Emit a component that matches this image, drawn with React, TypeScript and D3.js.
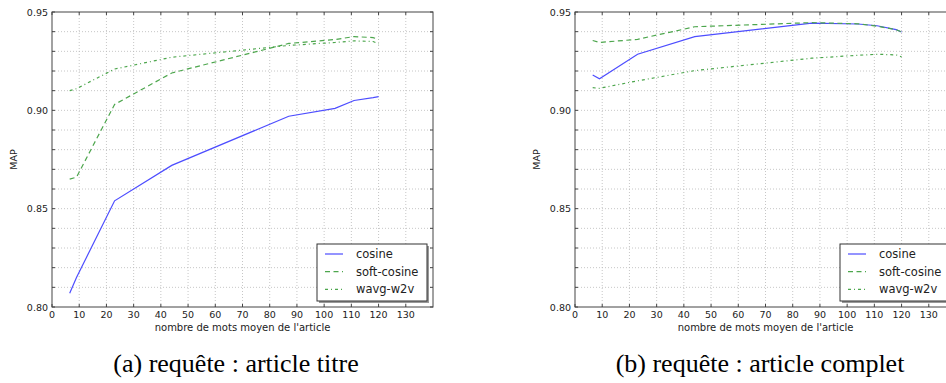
import React from "react";
import * as d3 from "d3";

// average article length (x) shared by both panels
const wordCounts = [6.5, 9, 23, 44, 87, 104, 111, 118, 120];

// (a) query : article title
const cosineTitle = [0.807, 0.815, 0.854, 0.872, 0.897, 0.901, 0.905, 0.9065, 0.907];
const softCosineTitle = [0.865, 0.866, 0.903, 0.919, 0.934, 0.936, 0.9375, 0.937, 0.936];
const wavgTitle = [0.91, 0.911, 0.921, 0.927, 0.933, 0.9345, 0.9353, 0.935, 0.9337];

// (b) query : full article
const cosineFull = [0.918, 0.916, 0.9285, 0.9375, 0.9443, 0.9439, 0.943, 0.941, 0.9398];
const softCosineFull = [0.9355, 0.9345, 0.9361, 0.9425, 0.9446, 0.944, 0.9428, 0.941, 0.9398];
const wavgFull = [0.9115, 0.9112, 0.915, 0.9202, 0.9265, 0.928, 0.9285, 0.9282, 0.9272];

const seriesNames = ["cosine", "soft-cosine", "wavg-w2v"];
const xTicks = d3.range(0, 131, 10);
const yMajor = [0.8, 0.85, 0.9, 0.95];
const yMinor = d3.range(0, 16).map((i) => +(0.8 + i * 0.01).toFixed(2));

const captions = ["(a) requête : article titre", "(b) requête : article complet"];

const BLUE = "rgb(77,77,255)";
const GREEN = "rgb(77,166,77)";
const styles = [
  { color: BLUE, dash: null },
  { color: GREEN, dash: "5,3.5" },
  { color: GREEN, dash: "3,3,1,3" },
];

const sans = "DejaVu Sans";

function Panel({ left, series, caption, captionX }) {
  const top = 12;
  const bottom = 307;
  const x = d3.scaleLinear().domain([0, 140]).range([left, left + 381]);
  const y = d3.scaleLinear().domain([0.8, 0.95]).range([bottom, top]);
  const right = x(140);

  const line = d3
    .line<number>()
    .x((d, i) => x(wordCounts[i]))
    .y((d) => y(d));

  const legX = right - 116;
  const legY = 244;

  return (
    <g>
      {/* grid */}
      {xTicks.slice(1).map((t) => (
        <line key={"gx" + t} x1={x(t)} x2={x(t)} y1={top} y2={bottom}
          stroke="#b8b8b8" strokeWidth={0.8} strokeDasharray="1,2" />
      ))}
      {yMinor.slice(1, -1).map((t) => (
        <line key={"gy" + t} x1={left} x2={right} y1={y(t)} y2={y(t)}
          stroke="#b8b8b8" strokeWidth={0.8} strokeDasharray="1,2" />
      ))}

      {/* series */}
      {series.map((s, i) => (
        <path key={i} d={line(s)} fill="none" stroke={styles[i].color}
          strokeWidth={1.2} strokeDasharray={styles[i].dash || undefined} />
      ))}

      {/* frame */}
      <rect x={left} y={top} width={right - left} height={bottom - top}
        fill="none" stroke="#444" strokeWidth={1} />

      {/* ticks */}
      {xTicks.map((t) => (
        <g key={"tx" + t}>
          <line x1={x(t)} x2={x(t)} y1={bottom} y2={bottom - 3} stroke="#444" />
          <line x1={x(t)} x2={x(t)} y1={top} y2={top + 3} stroke="#444" />
          <text x={x(t)} y={318} textAnchor="middle" fontFamily={sans}
            fontSize={9.5} fill="#222">{t}</text>
        </g>
      ))}
      {yMinor.map((t) => (
        <g key={"ty" + t}>
          <line x1={left} x2={left + 3} y1={y(t)} y2={y(t)} stroke="#444" />
          <line x1={right} x2={right - 3} y1={y(t)} y2={y(t)} stroke="#444" />
        </g>
      ))}
      {yMajor.map((t) => (
        <text key={"ly" + t} x={left - 4} y={y(t) + 3.5} textAnchor="end"
          fontFamily={sans} fontSize={9.5} fill="#222">{t.toFixed(2)}</text>
      ))}

      {/* axis labels */}
      <text x={(left + right) / 2} y={331} textAnchor="middle" fontFamily={sans}
        fontSize={10} fill="#222">nombre de mots moyen de l'article</text>
      <text transform={`translate(${left - 35},${(top + bottom) / 2}) rotate(-90)`}
        textAnchor="middle" fontFamily={sans} fontSize={9.5} fill="#222">MAP</text>

      {/* legend */}
      <rect x={legX + 2} y={legY + 2} width={110} height={57} fill="#999" />
      <rect x={legX} y={legY} width={110} height={57} fill="#fff" stroke="#333" strokeWidth={1} />
      {seriesNames.map((n, i) => (
        <g key={n}>
          <line x1={legX + 8} x2={legX + 26} y1={legY + 10 + i * 17.7} y2={legY + 10 + i * 17.7}
            stroke={styles[i].color} strokeWidth={1.2}
            strokeDasharray={styles[i].dash || undefined} />
          <text x={legX + 39} y={legY + 14 + i * 17.7} fontFamily={sans} fontSize={11.5}
            fill="#222">{n}</text>
        </g>
      ))}

      {/* caption */}
      <text x={captionX} y={372} textAnchor="middle" fontFamily="Liberation Serif"
        fontSize={26} fill="#000">{caption}</text>
    </g>
  );
}

export default function App() {
  return (
    <svg width={946} height={383} style={{ position: "absolute", left: 0, top: 0, background: "#fff" }}>
      <Panel left={52} series={[cosineTitle, softCosineTitle, wavgTitle]}
        caption={captions[0]} captionX={236} />
      <Panel left={575} series={[cosineFull, softCosineFull, wavgFull]}
        caption={captions[1]} captionX={760} />
    </svg>
  );
}
